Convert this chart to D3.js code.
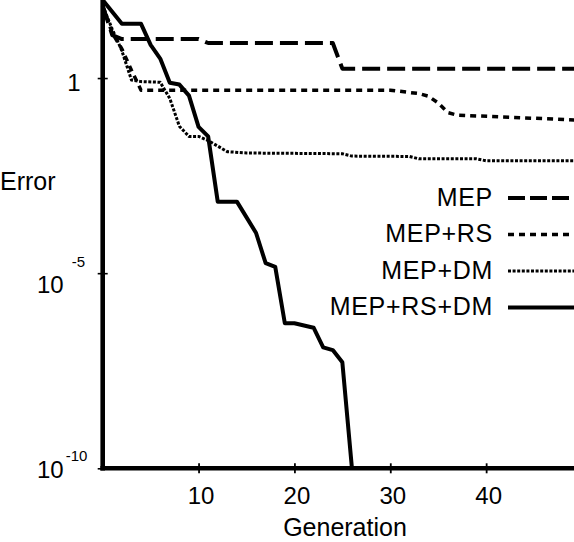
<!DOCTYPE html>
<html>
<head>
<meta charset="utf-8">
<script src="https://cdn.jsdelivr.net/npm/d3@7"></script>
<style>
  html, body { margin: 0; padding: 0; background: #fff; }
  svg { display: block; }
  text { font-family: "Liberation Sans", Arial, Helvetica, sans-serif; fill: #000; }
</style>
</head>
<body>
<svg id="chart" width="574" height="542"></svg>
<script>
// ---- data ----
const seriesNames = ["MEP", "MEP+RS", "MEP+DM", "MEP+RS+DM"];

const genMEP = [0, 1, 2, 10, 11, 24, 25, 50];
const errMEP = [70.8, 12.6, 10, 10, 7.9, 7.9, 1.74, 1.74];

const genMEP_RS = [0, 1, 2, 3, 4, 30, 31, 33, 34, 35, 36, 37, 50];
const errMEP_RS = [70.8, 14.1, 5.6, 1.58, 0.49, 0.49, 0.457, 0.40, 0.34, 0.23, 0.13, 0.112, 0.083];

const genMEP_DM = [0, 1, 2, 3, 4, 6, 7, 8, 9, 10, 11, 12, 13, 15, 25, 26, 32, 33, 39, 40, 50];
const errMEP_DM = [70.8, 17.8, 5.0, 0.89, 0.81, 0.78, 0.30, 0.058, 0.032, 0.032, 0.025, 0.018, 0.013, 0.012, 0.0115, 0.0100, 0.0098, 0.0085, 0.0085, 0.0076, 0.0076];

const genMEP_RS_DM = [0, 2, 4, 5, 6, 7, 8, 9, 10, 11, 12, 14, 16, 17, 18, 19, 20, 22, 23, 24, 25, 26];
const errMEP_RS_DM = [100, 24.5, 24.5, 7.1, 3.16, 0.76, 0.68, 0.355, 0.056, 0.032, 6.8e-4, 6.8e-4, 1.07e-4, 1.8e-5, 1.45e-5, 5.2e-7, 5.2e-7, 4e-7, 1.26e-7, 1.07e-7, 5.2e-8, 1e-10];

const xTicks = [10, 20, 30, 40];
const yTicks = [1e-10, 1e-5, 1];
const xTitle = "Generation";
const yTitle = "Error";

// ---- styles ----
const styles = [
  { dash: "18,7", width: 4 },
  { dash: "6,5", width: 3.5 },
  { dash: "3,1.6", width: 3 },
  { dash: null, width: 4 }
];

const series = [
  { name: seriesNames[0], gen: genMEP, err: errMEP },
  { name: seriesNames[1], gen: genMEP_RS, err: errMEP_RS },
  { name: seriesNames[2], gen: genMEP_DM, err: errMEP_DM },
  { name: seriesNames[3], gen: genMEP_RS_DM, err: errMEP_RS_DM }
];

const svg = d3.select("#chart");
const x = d3.scaleLinear().domain([0, 50]).range([102.7, 582]);
const y = d3.scaleLog().domain([1e-10, 1e2]).range([468.3, 0]);

const line = d3.line().x(d => x(d[0])).y(d => y(d[1]));

// ---- series lines ----
series.forEach((s, i) => {
  const pts = s.gen.map((g, k) => [g, s.err[k]]);
  svg.append("path")
    .attr("d", line(pts))
    .attr("fill", "none")
    .attr("stroke", "#000")
    .attr("stroke-width", styles[i].width)
    .attr("stroke-linejoin", "round")
    .attr("stroke-dasharray", styles[i].dash);
});

// ---- x axis ----
const xAxis = svg.append("g")
  .attr("transform", `translate(0,${y(1e-10)})`)
  .call(d3.axisBottom(x).tickValues(xTicks).tickSizeOuter(0).tickSizeInner(5).tickFormat(d3.format("d")));
xAxis.select(".domain")
  .attr("d", `M${x(0) - 2.3},0H574`)
  .attr("stroke", "#000").attr("stroke-width", 4.6);
xAxis.selectAll(".tick line").attr("y1", -5).attr("y2", 5).attr("stroke-width", 1.8);
xAxis.selectAll(".tick text")
  .attr("y", 36).attr("dy", 0)
  .attr("font-size", 24)
  .attr("font-family", null)
  .attr("dx", 2);

// ---- y axis ----
const yAxis = svg.append("g")
  .attr("transform", `translate(${x(0)},0)`)
  .call(d3.axisLeft(y).tickValues(yTicks).tickSizeOuter(0).tickSizeInner(5).tickFormat(() => ""));
yAxis.select(".domain")
  .attr("d", `M0,0V${y(1e-10) + 2.3}`)
  .attr("stroke", "#000").attr("stroke-width", 4.6);
yAxis.selectAll(".tick line").attr("x1", -5).attr("x2", 5).attr("stroke-width", 1.6);

yAxis.selectAll(".tick").each(function(d) {
  const g = d3.select(this);
  g.select("text").remove();
  const exp = Math.round(Math.log10(d));
  if (exp === 0) {
    g.append("text")
      .attr("x", -22).attr("y", 12)
      .attr("text-anchor", "end")
      .attr("font-size", 24)
      .text("1");
  } else {
    const base = exp === -5 ? 19 : 9;
    const sup = exp === -5 ? -7 : -8;
    g.append("text")
      .attr("x", -39).attr("y", base)
      .attr("text-anchor", "end")
      .attr("font-size", 24)
      .text("10");
    g.append("text")
      .attr("x", exp === -5 ? -31 : -37).attr("y", sup)
      .attr("text-anchor", "start")
      .attr("font-size", 15)
      .text(String(exp));
  }
});

// ---- titles ----
svg.append("text")
  .attr("x", 0).attr("y", 190)
  .attr("font-size", 25)
  .text(yTitle);
svg.append("text")
  .attr("x", 345).attr("y", 536)
  .attr("text-anchor", "middle")
  .attr("font-size", 25)
  .text(xTitle);

// ---- legend ----
const legend = svg.append("g");
series.forEach((s, i) => {
  const ly = 198 + i * 36.5;
  legend.append("text")
    .attr("x", 493).attr("y", ly + 7.5)
    .attr("text-anchor", "end")
    .attr("font-size", 25)
    .attr("letter-spacing", 0.7)
    .text(s.name);
  legend.append("line")
    .attr("x1", 508).attr("x2", 574)
    .attr("y1", ly).attr("y2", ly)
    .attr("stroke", "#000")
    .attr("stroke-width", styles[i].width)
    .attr("stroke-dasharray", i === 0 ? "17,5" : styles[i].dash);
});
</script>
</body>
</html>
